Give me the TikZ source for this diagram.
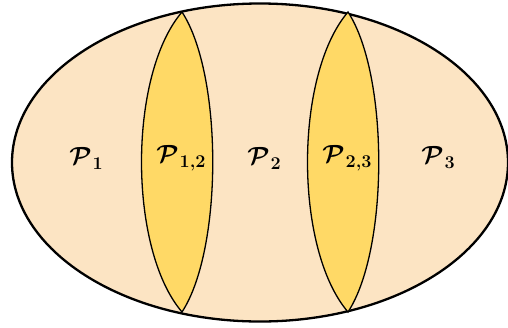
\documentclass[tikz,border=0pt]{standalone}
\usepackage{amsmath,amssymb,bm}
\usetikzlibrary{shapes.geometric}
\definecolor{peach}{HTML}{FCE4C3}
\definecolor{gold}{HTML}{FFD966}
\newcommand{\plbl}[1]{$\bm{\mathcal{P}}$\kern1pt\raisebox{-5pt}{\fontsize{18}{20}\selectfont\bfseries #1}}
\tikzset{
  outer/.style={draw=black, line width=2.3pt, fill=peach},
  lens/.style={draw=black, line width=1.3pt, fill=gold},
  lbl/.style={font=\fontsize{24}{28}\selectfont, inner sep=0pt}
}
\begin{document}
\begin{tikzpicture}[x=1pt,y=-1pt]
\useasboundingbox (0,0) rectangle (508,327);
\begin{scope}
\clip (0,0) rectangle (508,327);
\node[outer, ellipse, minimum width=496pt, minimum height=318pt, inner sep=0pt] (set) at (260,162.5) {};
\end{scope}
\coordinate (t1) at (182,12);
\coordinate (b1) at (182,312);
\coordinate (t2) at (348,12);
\coordinate (b2) at (348,312);
\path[lens] (t1) .. controls (128,75) and (128,249) .. (b1)
  .. controls (223,249) and (223,75) .. (t1) -- cycle;
\path[lens] (t2) .. controls (294,75) and (294,249) .. (b2)
  .. controls (389,249) and (389,75) .. (t2) -- cycle;
\node[lbl] (p1) at (86,158) {\plbl{1}};
\node[lbl] (p12) at (181,158) {\plbl{1,2}};
\node[lbl] (p2) at (264,158) {\plbl{2}};
\node[lbl] (p23) at (347,158) {\plbl{2,3}};
\node[lbl] (p3) at (438,158) {\plbl{3}};
\end{tikzpicture}
\end{document}
